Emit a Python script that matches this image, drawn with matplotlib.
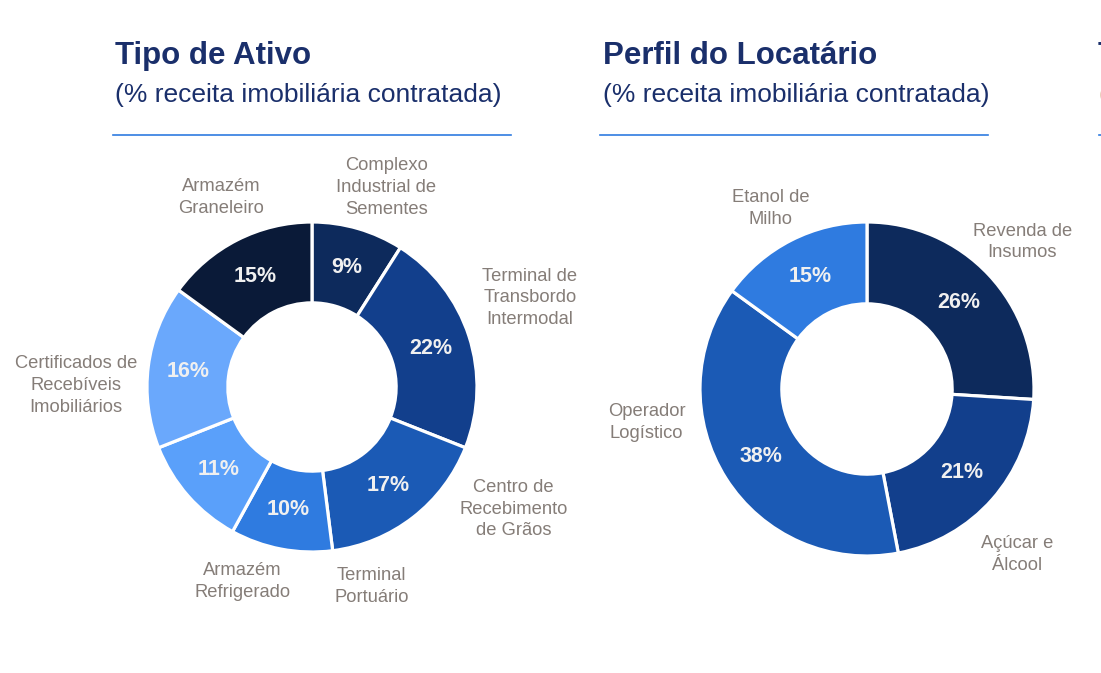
import matplotlib.pyplot as plt
from matplotlib.lines import Line2D

plt.rcParams['font.family'] = ['Liberation Sans', 'DejaVu Sans']

# Tipo de Ativo
asset_labels = ["Complexo\nIndustrial de\nSementes", "Terminal de\nTransbordo\nIntermodal",
                "Centro de\nRecebimento\nde Grãos", "Terminal\nPortuário",
                "Armazém\nRefrigerado", "Certificados de\nRecebíveis\nImobiliários",
                "Armazém\nGraneleiro"]
asset_values = [9, 22, 17, 10, 11, 16, 15]
asset_colors = ["#0d2a5c", "#123f8c", "#1b5ab5", "#2f7be0", "#5aa0fa", "#6aa8fc", "#0a1a38"]
# label anchor points, in units of the outer radius
asset_label_pos = [(0.45, 1.21), (1.32, 0.54), (1.22, -0.74), (0.36, -1.21),
                   (-0.42, -1.18), (-1.43, 0.01), (-0.55, 1.15)]

# Perfil do Locatário
tenant_labels = ["Revenda de\nInsumos", "Açúcar e\nÁlcool", "Operador\nLogístico", "Etanol de\nMilho"]
tenant_values = [26, 21, 38, 15]
tenant_colors = ["#0d2a5c", "#123f8c", "#1b5ab5", "#2f7be0"]
tenant_label_pos = [(0.93, 0.88), (0.90, -0.99), (-1.32, -0.20), (-0.575, 1.08)]

W, H = 1101, 673
NAVY = "#1a2f6b"
GREY = "#857d78"
LINE = "#2f7be0"


def draw_donut(fig, cx, cy, r, values, colors, labels, label_pos):
    half = 1.1 * r
    ax = fig.add_axes([(cx - half) / W, (H - cy - half) / H, 2 * half / W, 2 * half / H])
    wedges, _, pcts = ax.pie(values, colors=colors, startangle=90, counterclock=False,
                             autopct="%d%%", pctdistance=0.755,
                             wedgeprops=dict(width=0.49, edgecolor="white", linewidth=2.3),
                             textprops=dict(color="#f0f0f0", fontsize=15.5, fontweight="bold"))
    for t, v in zip(pcts, values):
        t.set_text(f"{v}%")
    for lab, (x, y) in zip(labels, label_pos):
        ax.text(x, y, lab, ha="center", va="center", color=GREY, fontsize=13.2,
                linespacing=1.36)
    ax.set_xlim(-1.1, 1.1)
    ax.set_ylim(-1.1, 1.1)
    ax.set_aspect("equal")
    ax.axis("off")
    return ax


def draw_header(fig, x, title, sub, x0, x1, sub_color=NAVY):
    fig.text(x / W, 1 - 64 / H, title, fontsize=22.5, fontweight="bold", color=NAVY, va="baseline")
    fig.text(x / W, 1 - 102 / H, sub, fontsize=19, color=sub_color, va="baseline")
    fig.add_artist(Line2D([x0 / W, x1 / W], [1 - 135 / H, 1 - 135 / H], color=LINE, linewidth=1.2))


fig = plt.figure(figsize=(W / 100, H / 100), dpi=100)
fig.patch.set_facecolor("white")

draw_header(fig, 115, "Tipo de Ativo", "(% receita imobiliária contratada)", 113, 511)
draw_header(fig, 603, "Perfil do Locatário", "(% receita imobiliária contratada)", 600, 988)
# third panel, cut off at the right edge
draw_header(fig, 1098, "T", "(", 1099, 1101, sub_color="#c0804a")

draw_donut(fig, 312, 387, 165, asset_values, asset_colors, asset_labels, asset_label_pos)
draw_donut(fig, 867, 389, 167, tenant_values, tenant_colors, tenant_labels, tenant_label_pos)

fig.savefig("out.png", dpi=100)
